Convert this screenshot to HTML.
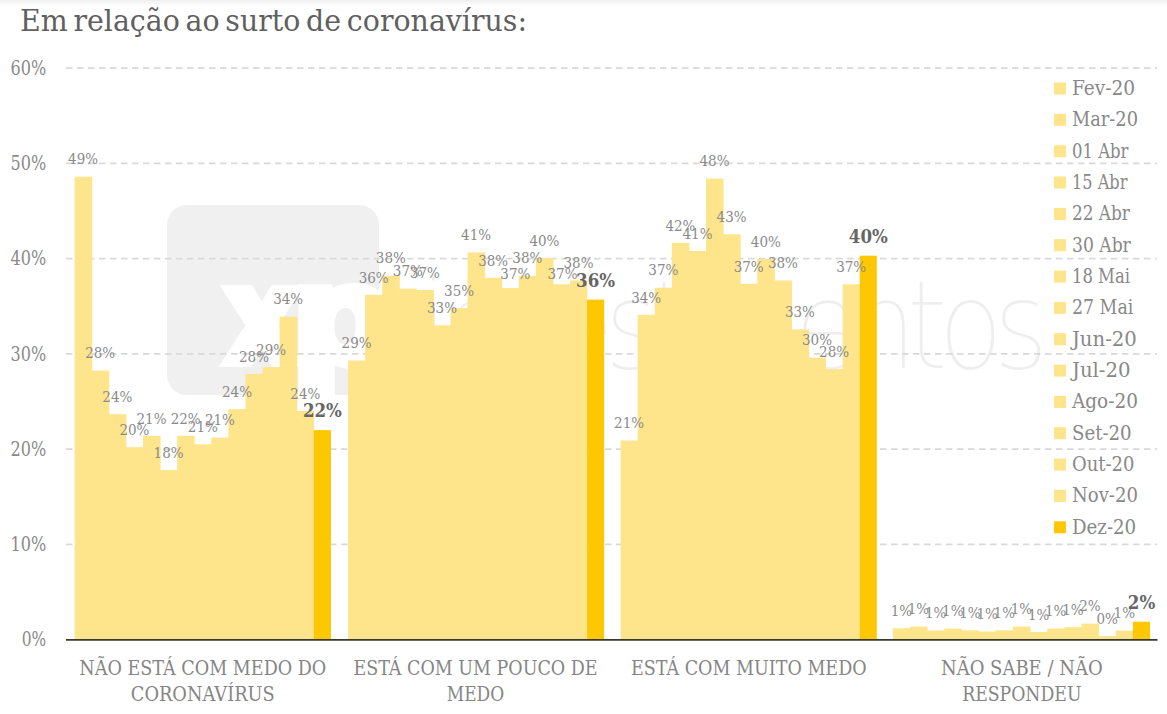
<!DOCTYPE html>
<html lang="pt"><head><meta charset="utf-8"><title>Em relação ao surto de coronavírus</title>
<style>html,body{margin:0;padding:0;background:#fff;overflow:hidden}svg{display:block}.s{font-family:'DejaVu Serif Condensed','DejaVu Serif','Liberation Serif',serif}.w{font-family:'DejaVu Sans Light','DejaVu Sans','Liberation Sans',sans-serif}.d{font-size:15px;fill:#8a8a8a;text-anchor:middle}.b{font-size:18.5px;font-weight:bold;fill:#666;text-anchor:middle}.y{font-size:21px;fill:#8a8a8a;text-anchor:end}.l{font-size:19.5px;fill:#888}.c{font-size:19.5px;fill:#858585;text-anchor:middle}</style></head><body>
<svg width="1167" height="714" viewBox="0 0 1167 714">
<defs><linearGradient id="tg" x1="0" y1="0" x2="0" y2="1"><stop offset="0" stop-color="#efefef"/><stop offset="1" stop-color="#ffffff"/></linearGradient></defs>
<rect width="1167" height="714" fill="#fff"/>
<rect width="1167" height="6" fill="url(#tg)"/>
<g>
<rect x="167" y="205" width="212" height="190" rx="20" ry="20" fill="#f0f0f0"/>
<text x="230" y="360" font-family="'Liberation Sans',sans-serif" font-weight="bold" font-size="128" fill="#fff" stroke="#fff" stroke-width="14" stroke-linejoin="miter" textLength="64" lengthAdjust="spacingAndGlyphs">x</text>
<text x="294.4" y="362" font-family="'Liberation Sans',sans-serif" font-weight="bold" font-size="135" fill="#fff" stroke="#fff" stroke-width="12" stroke-linejoin="miter" textLength="97.8" lengthAdjust="spacingAndGlyphs">p</text>
<text class="w" transform="translate(419,369) scale(0.87,1)" x="0" y="0" font-size="124" font-weight="200" fill="#eeeeee" stroke="#fff" stroke-width="2.2" textLength="724" lengthAdjust="spacing">investimentos</text>
</g>
<line x1="66" x2="1157" y1="544.4" y2="544.4" stroke="#d9d9d9" stroke-width="1.6" stroke-dasharray="6.5 4.5"/>
<line x1="66" x2="1157" y1="449.1" y2="449.1" stroke="#d9d9d9" stroke-width="1.6" stroke-dasharray="6.5 4.5"/>
<line x1="66" x2="1157" y1="353.9" y2="353.9" stroke="#d9d9d9" stroke-width="1.6" stroke-dasharray="6.5 4.5"/>
<line x1="66" x2="1157" y1="258.6" y2="258.6" stroke="#d9d9d9" stroke-width="1.6" stroke-dasharray="6.5 4.5"/>
<line x1="66" x2="1157" y1="163.4" y2="163.4" stroke="#d9d9d9" stroke-width="1.6" stroke-dasharray="6.5 4.5"/>
<line x1="66" x2="1157" y1="68.1" y2="68.1" stroke="#d9d9d9" stroke-width="1.6" stroke-dasharray="6.5 4.5"/>
<rect x="74.60" y="176.7" width="17.59" height="462.9" fill="#fee48a"/>
<rect x="91.69" y="370.6" width="17.59" height="269.0" fill="#fee48a"/>
<rect x="108.78" y="414.2" width="17.59" height="225.4" fill="#fee48a"/>
<rect x="125.87" y="447.2" width="17.59" height="192.4" fill="#fee48a"/>
<rect x="142.96" y="435.8" width="17.59" height="203.8" fill="#fee48a"/>
<rect x="160.05" y="470.1" width="17.59" height="169.5" fill="#fee48a"/>
<rect x="177.14" y="435.8" width="17.59" height="203.8" fill="#fee48a"/>
<rect x="194.23" y="444.3" width="17.59" height="195.3" fill="#fee48a"/>
<rect x="211.32" y="437.7" width="17.59" height="201.9" fill="#fee48a"/>
<rect x="228.41" y="409.1" width="17.59" height="230.5" fill="#fee48a"/>
<rect x="245.50" y="373.9" width="17.59" height="265.7" fill="#fee48a"/>
<rect x="262.59" y="367.2" width="17.59" height="272.4" fill="#fee48a"/>
<rect x="279.68" y="316.7" width="17.59" height="322.9" fill="#fee48a"/>
<rect x="296.77" y="411.0" width="17.29" height="228.6" fill="#fee48a"/>
<rect x="313.86" y="430.1" width="17.09" height="209.6" fill="#fdc703"/>
<rect x="348.10" y="360.5" width="17.57" height="279.1" fill="#fee48a"/>
<rect x="365.17" y="294.8" width="17.57" height="344.8" fill="#fee48a"/>
<rect x="382.24" y="275.7" width="17.57" height="363.9" fill="#fee48a"/>
<rect x="399.31" y="288.6" width="17.57" height="351.0" fill="#fee48a"/>
<rect x="416.38" y="290.0" width="17.57" height="349.6" fill="#fee48a"/>
<rect x="433.45" y="325.3" width="17.57" height="314.3" fill="#fee48a"/>
<rect x="450.52" y="308.1" width="17.57" height="331.5" fill="#fee48a"/>
<rect x="467.59" y="252.4" width="17.57" height="387.2" fill="#fee48a"/>
<rect x="484.66" y="277.8" width="17.57" height="361.8" fill="#fee48a"/>
<rect x="501.73" y="288.1" width="17.57" height="351.5" fill="#fee48a"/>
<rect x="518.80" y="275.7" width="17.57" height="363.9" fill="#fee48a"/>
<rect x="535.87" y="258.1" width="17.57" height="381.5" fill="#fee48a"/>
<rect x="552.94" y="284.3" width="17.57" height="355.3" fill="#fee48a"/>
<rect x="570.01" y="280.5" width="17.27" height="359.1" fill="#fee48a"/>
<rect x="587.08" y="299.6" width="17.07" height="340.0" fill="#fdc703"/>
<rect x="620.60" y="440.5" width="17.58" height="199.1" fill="#fee48a"/>
<rect x="637.68" y="314.8" width="17.58" height="324.8" fill="#fee48a"/>
<rect x="654.76" y="287.7" width="17.58" height="351.9" fill="#fee48a"/>
<rect x="671.84" y="242.8" width="17.58" height="396.8" fill="#fee48a"/>
<rect x="688.92" y="251.0" width="17.58" height="388.6" fill="#fee48a"/>
<rect x="706.00" y="178.6" width="17.58" height="461.0" fill="#fee48a"/>
<rect x="723.08" y="234.3" width="17.58" height="405.3" fill="#fee48a"/>
<rect x="740.16" y="283.8" width="17.58" height="355.8" fill="#fee48a"/>
<rect x="757.24" y="259.0" width="17.58" height="380.6" fill="#fee48a"/>
<rect x="774.32" y="280.5" width="17.58" height="359.1" fill="#fee48a"/>
<rect x="791.40" y="329.4" width="17.58" height="310.2" fill="#fee48a"/>
<rect x="808.48" y="357.7" width="17.58" height="281.9" fill="#fee48a"/>
<rect x="825.56" y="369.1" width="17.58" height="270.5" fill="#fee48a"/>
<rect x="842.64" y="284.3" width="17.28" height="355.3" fill="#fee48a"/>
<rect x="859.72" y="255.7" width="17.08" height="383.9" fill="#fdc703"/>
<rect x="892.80" y="628.3" width="17.65" height="11.3" fill="#fee48a"/>
<rect x="909.95" y="626.6" width="17.65" height="13.0" fill="#fee48a"/>
<rect x="927.10" y="630.5" width="17.65" height="9.1" fill="#fee48a"/>
<rect x="944.25" y="628.6" width="17.65" height="11.0" fill="#fee48a"/>
<rect x="961.40" y="630.3" width="17.65" height="9.3" fill="#fee48a"/>
<rect x="978.55" y="631.5" width="17.65" height="8.1" fill="#fee48a"/>
<rect x="995.70" y="630.3" width="17.65" height="9.3" fill="#fee48a"/>
<rect x="1012.85" y="626.6" width="17.65" height="13.0" fill="#fee48a"/>
<rect x="1030.00" y="632.0" width="17.65" height="7.6" fill="#fee48a"/>
<rect x="1047.15" y="628.6" width="17.65" height="11.0" fill="#fee48a"/>
<rect x="1064.30" y="627.2" width="17.65" height="12.4" fill="#fee48a"/>
<rect x="1081.45" y="623.6" width="17.65" height="16.0" fill="#fee48a"/>
<rect x="1098.60" y="635.9" width="17.65" height="3.7" fill="#fee48a"/>
<rect x="1115.75" y="630.7" width="17.35" height="8.9" fill="#fee48a"/>
<rect x="1132.90" y="621.7" width="17.15" height="17.9" fill="#fdc703"/>
<line x1="66" x2="1157.5" y1="639.9" y2="639.9" stroke="#3b3832" stroke-width="1.7"/>
<text class="s d" x="83.1" y="164.4">49%</text>
<text class="s d" x="100.2" y="358.3">28%</text>
<text class="s d" x="117.3" y="401.9">24%</text>
<text class="s d" x="134.4" y="434.9">20%</text>
<text class="s d" x="151.5" y="423.5">21%</text>
<text class="s d" x="168.6" y="457.8">18%</text>
<text class="s d" x="185.7" y="423.5">22%</text>
<text class="s d" x="202.8" y="432.0">21%</text>
<text class="s d" x="219.9" y="425.4">21%</text>
<text class="s d" x="237.0" y="396.8">24%</text>
<text class="s d" x="254.0" y="361.6">28%</text>
<text class="s d" x="271.1" y="354.9">29%</text>
<text class="s d" x="288.2" y="304.4">34%</text>
<text class="s d" x="305.3" y="398.7">24%</text>
<text class="s b" x="322.4" y="417.1">22%</text>
<text class="s d" x="356.6" y="348.2">29%</text>
<text class="s d" x="373.7" y="282.5">36%</text>
<text class="s d" x="390.8" y="263.4">38%</text>
<text class="s d" x="407.8" y="276.3">37%</text>
<text class="s d" x="424.9" y="277.7">37%</text>
<text class="s d" x="442.0" y="313.0">33%</text>
<text class="s d" x="459.1" y="295.8">35%</text>
<text class="s d" x="476.1" y="240.1">41%</text>
<text class="s d" x="493.2" y="265.5">38%</text>
<text class="s d" x="515.3" y="279.0">37%</text>
<text class="s d" x="527.3" y="263.4">38%</text>
<text class="s d" x="544.4" y="245.8">40%</text>
<text class="s d" x="562.5" y="279.0">37%</text>
<text class="s d" x="578.5" y="268.2">38%</text>
<text class="s b" x="595.6" y="286.6">36%</text>
<text class="s d" x="629.1" y="428.2">21%</text>
<text class="s d" x="646.2" y="302.5">34%</text>
<text class="s d" x="663.3" y="275.4">37%</text>
<text class="s d" x="680.4" y="230.5">42%</text>
<text class="s d" x="697.5" y="238.7">41%</text>
<text class="s d" x="714.5" y="166.3">48%</text>
<text class="s d" x="731.6" y="222.0">43%</text>
<text class="s d" x="748.7" y="271.5">37%</text>
<text class="s d" x="765.8" y="246.7">40%</text>
<text class="s d" x="782.9" y="268.2">38%</text>
<text class="s d" x="799.9" y="317.1">33%</text>
<text class="s d" x="817.0" y="345.4">30%</text>
<text class="s d" x="834.1" y="356.8">28%</text>
<text class="s d" x="851.2" y="272.0">37%</text>
<text class="s b" x="868.3" y="242.7">40%</text>
<text class="s d" x="901.4" y="616.0">1%</text>
<text class="s d" x="918.5" y="614.3">1%</text>
<text class="s d" x="935.7" y="618.2">1%</text>
<text class="s d" x="952.8" y="616.3">1%</text>
<text class="s d" x="970.0" y="618.0">1%</text>
<text class="s d" x="987.1" y="619.2">1%</text>
<text class="s d" x="1004.3" y="618.0">1%</text>
<text class="s d" x="1021.4" y="614.3">1%</text>
<text class="s d" x="1038.6" y="619.7">1%</text>
<text class="s d" x="1055.7" y="616.3">1%</text>
<text class="s d" x="1072.9" y="614.9">1%</text>
<text class="s d" x="1090.0" y="611.3">2%</text>
<text class="s d" x="1107.2" y="623.6">0%</text>
<text class="s d" x="1124.3" y="618.4">1%</text>
<text class="s b" x="1141.5" y="608.7">2%</text>
<text class="s y" x="46.3" y="646.4" textLength="24.5" lengthAdjust="spacingAndGlyphs">0%</text>
<text class="s y" x="46.3" y="551.1" textLength="35.7" lengthAdjust="spacingAndGlyphs">10%</text>
<text class="s y" x="46.3" y="455.9" textLength="35.7" lengthAdjust="spacingAndGlyphs">20%</text>
<text class="s y" x="46.3" y="360.7" textLength="35.7" lengthAdjust="spacingAndGlyphs">30%</text>
<text class="s y" x="46.3" y="265.4" textLength="35.7" lengthAdjust="spacingAndGlyphs">40%</text>
<text class="s y" x="46.3" y="170.2" textLength="35.7" lengthAdjust="spacingAndGlyphs">50%</text>
<text class="s y" x="46.3" y="74.9" textLength="35.7" lengthAdjust="spacingAndGlyphs">60%</text>
<rect x="1054" y="82.5" width="12" height="12" fill="#fee48a"/>
<text class="s l" x="1072" y="94.8" textLength="63" lengthAdjust="spacingAndGlyphs">Fev-20</text>
<rect x="1054" y="113.8" width="12" height="12" fill="#fee48a"/>
<text class="s l" x="1072" y="126.1" textLength="66" lengthAdjust="spacingAndGlyphs">Mar-20</text>
<rect x="1054" y="145.2" width="12" height="12" fill="#fee48a"/>
<text class="s l" x="1072" y="157.5" textLength="56.4" lengthAdjust="spacingAndGlyphs">01 Abr</text>
<rect x="1054" y="176.5" width="12" height="12" fill="#fee48a"/>
<text class="s l" x="1072" y="188.8" textLength="55.4" lengthAdjust="spacingAndGlyphs">15 Abr</text>
<rect x="1054" y="207.9" width="12" height="12" fill="#fee48a"/>
<text class="s l" x="1072" y="220.2" textLength="57.8" lengthAdjust="spacingAndGlyphs">22 Abr</text>
<rect x="1054" y="239.2" width="12" height="12" fill="#fee48a"/>
<text class="s l" x="1072" y="251.5" textLength="58.8" lengthAdjust="spacingAndGlyphs">30 Abr</text>
<rect x="1054" y="270.5" width="12" height="12" fill="#fee48a"/>
<text class="s l" x="1072" y="282.8" textLength="58" lengthAdjust="spacingAndGlyphs">18 Mai</text>
<rect x="1054" y="301.9" width="12" height="12" fill="#fee48a"/>
<text class="s l" x="1072" y="314.2" textLength="61.3" lengthAdjust="spacingAndGlyphs">27 Mai</text>
<rect x="1054" y="333.2" width="12" height="12" fill="#fee48a"/>
<text class="s l" x="1072" y="345.5" textLength="64.8" lengthAdjust="spacingAndGlyphs">Jun-20</text>
<rect x="1054" y="364.6" width="12" height="12" fill="#fee48a"/>
<text class="s l" x="1072" y="376.9" textLength="58.5" lengthAdjust="spacingAndGlyphs">Jul-20</text>
<rect x="1054" y="395.9" width="12" height="12" fill="#fee48a"/>
<text class="s l" x="1072" y="408.2" textLength="65.9" lengthAdjust="spacingAndGlyphs">Ago-20</text>
<rect x="1054" y="427.2" width="12" height="12" fill="#fee48a"/>
<text class="s l" x="1072" y="439.5" textLength="59.6" lengthAdjust="spacingAndGlyphs">Set-20</text>
<rect x="1054" y="458.6" width="12" height="12" fill="#fee48a"/>
<text class="s l" x="1072" y="470.9" textLength="62.4" lengthAdjust="spacingAndGlyphs">Out-20</text>
<rect x="1054" y="489.9" width="12" height="12" fill="#fee48a"/>
<text class="s l" x="1072" y="502.2" textLength="65.9" lengthAdjust="spacingAndGlyphs">Nov-20</text>
<rect x="1054" y="521.3" width="12" height="12" fill="#fdc703"/>
<text class="s l" x="1072" y="533.6" textLength="64.2" lengthAdjust="spacingAndGlyphs">Dez-20</text>
<text class="s c" x="202.8" y="674.6" textLength="247" lengthAdjust="spacingAndGlyphs">NÃO ESTÁ COM MEDO DO</text>
<text class="s c" x="202.8" y="700.8" textLength="144" lengthAdjust="spacingAndGlyphs">CORONAVÍRUS</text>
<text class="s c" x="475.5" y="674.6" textLength="244" lengthAdjust="spacingAndGlyphs">ESTÁ COM UM POUCO DE</text>
<text class="s c" x="475.5" y="700.8" textLength="57.5" lengthAdjust="spacingAndGlyphs">MEDO</text>
<text class="s c" x="748.8" y="674.6" textLength="235.6" lengthAdjust="spacingAndGlyphs">ESTÁ COM MUITO MEDO</text>
<text class="s c" x="1021.8" y="674.6" textLength="161.7" lengthAdjust="spacingAndGlyphs">NÃO SABE / NÃO</text>
<text class="s c" x="1021.8" y="700.8" textLength="119.3" lengthAdjust="spacingAndGlyphs">RESPONDEU</text>
<text class="s" x="20" y="31.4" font-size="29" fill="#606060" word-spacing="-3" textLength="507" lengthAdjust="spacingAndGlyphs">Em relação ao surto de coronavírus:</text>
</svg></body></html>
